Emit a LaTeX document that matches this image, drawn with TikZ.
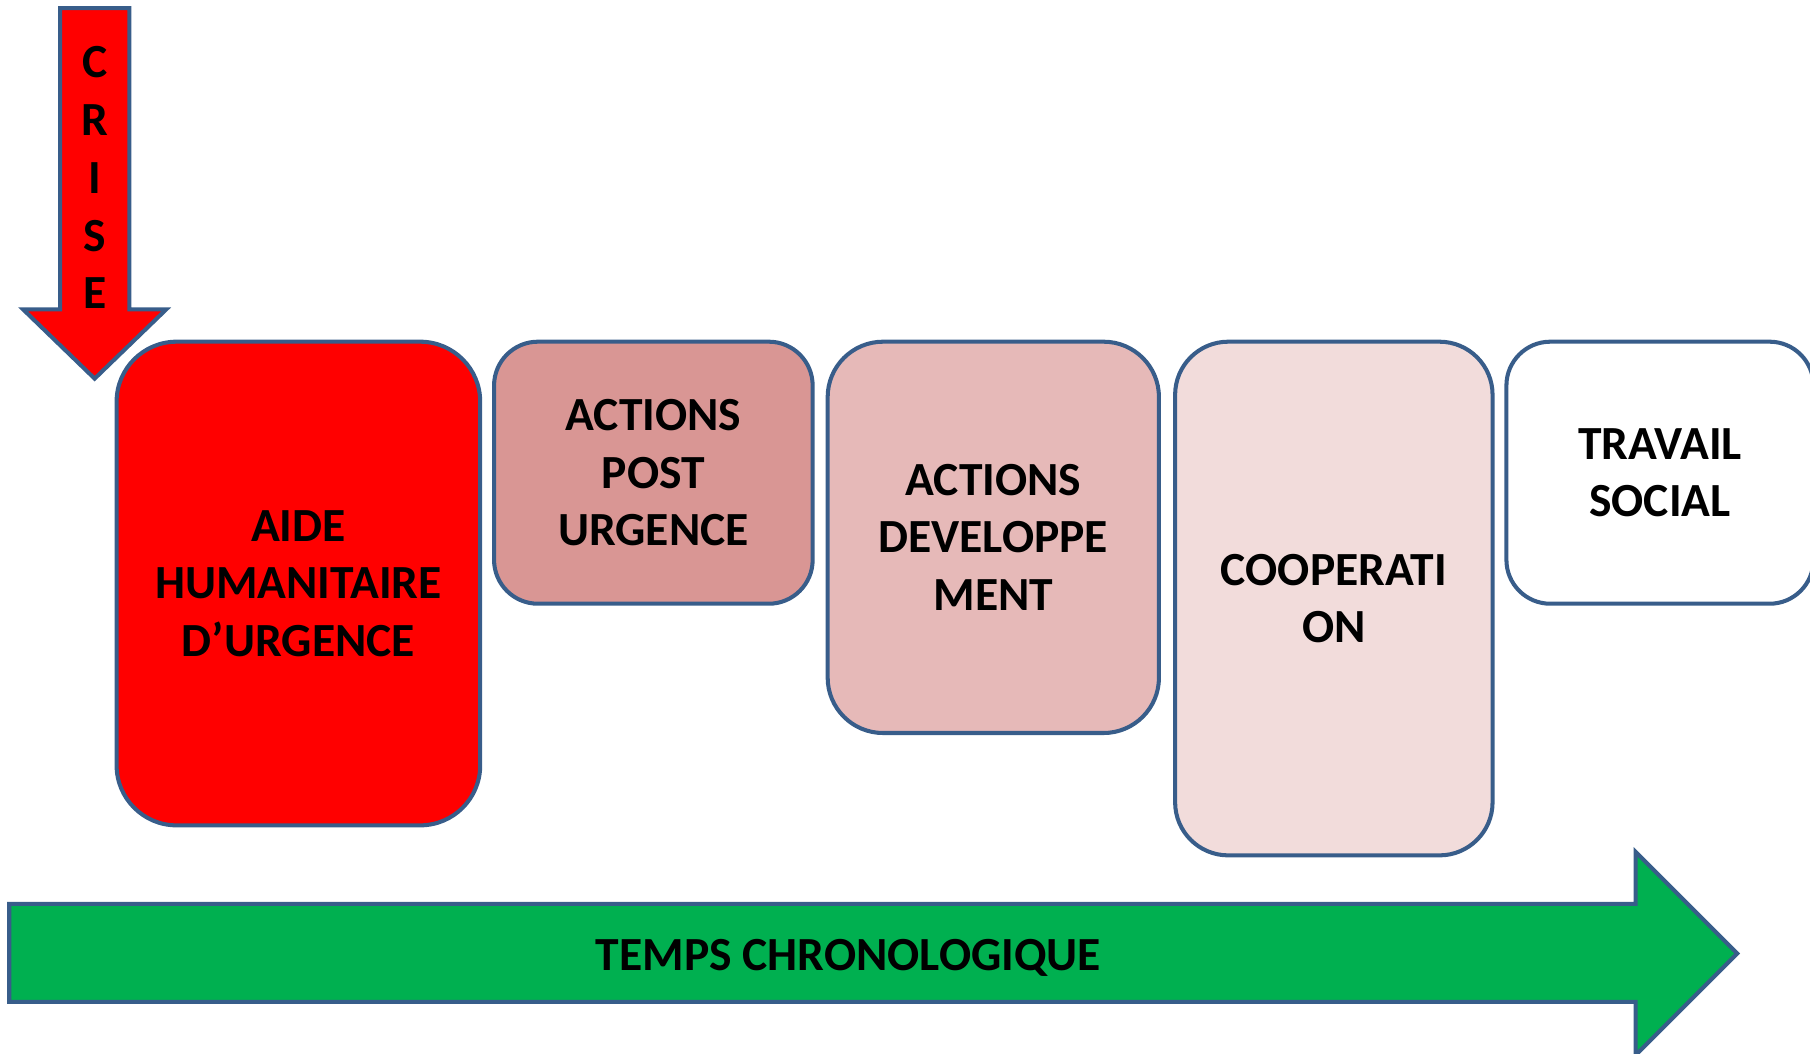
\documentclass[tikz,border=0pt]{standalone}
\usepackage{fontspec}
\setmainfont{Carlito}
\definecolor{bblue}{RGB}{56,93,138}
\definecolor{postfill}{HTML}{D99694}
\definecolor{devfill}{HTML}{E6B9B8}
\definecolor{coopfill}{HTML}{F2DCDB}
\definecolor{greenfill}{HTML}{00B050}
\newcommand\boxfont{\fontsize{41.2}{50}\selectfont\bfseries}
\begin{document}
\begin{tikzpicture}[x=1pt,y=-1pt,
  bx/.style={draw=bblue, line width=3.5pt, rounded corners=#1, align=center,
    font=\boxfont, inner sep=0pt, text=black},
  shapeline/.style={draw=bblue, line width=3.5pt, line join=miter}]
\useasboundingbox (0,0) rectangle (1568,913);
\clip (0,0) rectangle (1568,913);

% CRISE arrow
\path[shapeline, fill=red] (52,7) -- (112,7) -- (112,268) -- (144,268) -- (82,328)
  -- (20,268) -- (52,268) -- cycle;
\node[align=center, font=\boxfont] (crise) at (82,154) {C\\R\\I\\S\\E};

% boxes
\node[bx=52, fill=red, minimum width=315pt, minimum height=419pt] (aide) at (258.5,505.5)
  {AIDE\\HUMANITAIRE\\D’URGENCE};
\node[bx=38, fill=postfill, minimum width=276pt, minimum height=227pt] (post) at (566,409.5)
  {ACTIONS\\POST\\URGENCE};
\node[bx=48, fill=devfill, minimum width=287pt, minimum height=339pt] (dev) at (860.5,465.5)
  {ACTIONS\\DEVELOPPE\\MENT};
\node[bx=46, fill=coopfill, minimum width=275pt, minimum height=445pt] (coop) at (1155.5,518.5)
  {COOPERATI\\ON};
\node[bx=38, fill=white, minimum width=266pt, minimum height=227pt] (trav) at (1438,409.5)
  {TRAVAIL\\SOCIAL};

% time arrow
\path[shapeline, fill=greenfill] (8,783) -- (1417,783) -- (1417,738) -- (1505,826)
  -- (1417,914) -- (1417,868) -- (8,868) -- cycle;
\node[font=\boxfont, anchor=base] (temps) at (735,841) {TEMPS CHRONOLOGIQUE};
\end{tikzpicture}
\end{document}
